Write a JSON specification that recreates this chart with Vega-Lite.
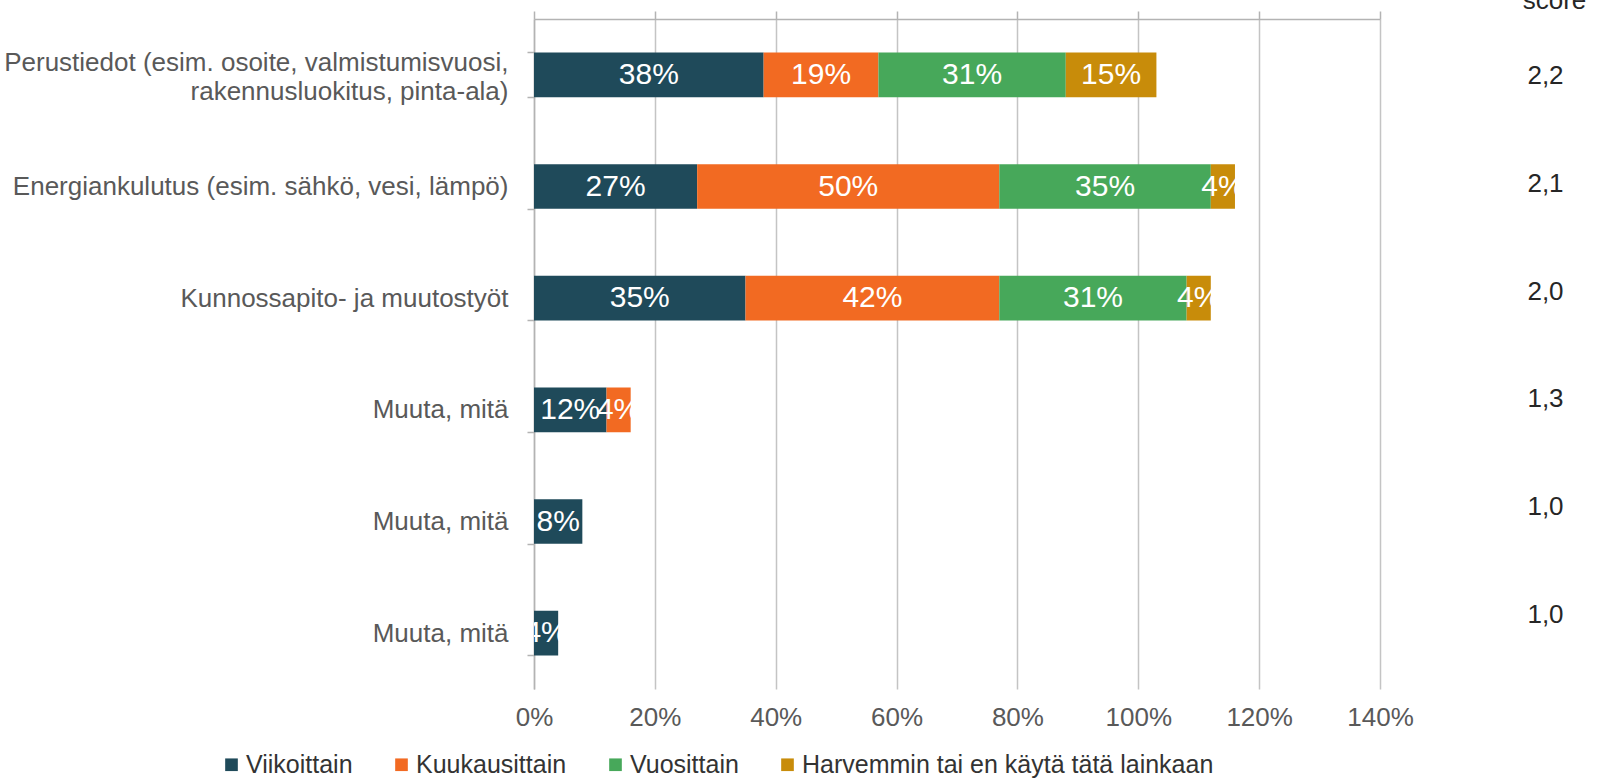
{
  "$schema": "https://vega.github.io/schema/vega-lite/v6.json",
  "width": 846,
  "height": 670,
  "autosize": {"type": "none"},
  "padding": {"left": 534, "top": 19, "right": 234, "bottom": 89},
  "background": "white",
  "config": {"view": {"stroke": null}, "font": "Liberation Sans"},
  "datasets": {
    "bars": [
      {"row": "r1", "series": "Viikoittain", "value": 0.38},
      {"row": "r1", "series": "Kuukausittain", "value": 0.19},
      {"row": "r1", "series": "Vuosittain", "value": 0.31},
      {"row": "r1", "series": "Harvemmin tai en käytä tätä lainkaan", "value": 0.15},
      {"row": "r2", "series": "Viikoittain", "value": 0.27},
      {"row": "r2", "series": "Kuukausittain", "value": 0.50},
      {"row": "r2", "series": "Vuosittain", "value": 0.35},
      {"row": "r2", "series": "Harvemmin tai en käytä tätä lainkaan", "value": 0.04},
      {"row": "r3", "series": "Viikoittain", "value": 0.35},
      {"row": "r3", "series": "Kuukausittain", "value": 0.42},
      {"row": "r3", "series": "Vuosittain", "value": 0.31},
      {"row": "r3", "series": "Harvemmin tai en käytä tätä lainkaan", "value": 0.04},
      {"row": "r4", "series": "Viikoittain", "value": 0.12},
      {"row": "r4", "series": "Kuukausittain", "value": 0.04},
      {"row": "r5", "series": "Viikoittain", "value": 0.08},
      {"row": "r6", "series": "Viikoittain", "value": 0.04}
    ],
    "scores": [
      {"row": "r1", "score": "2,2"},
      {"row": "r2", "score": "2,1"},
      {"row": "r3", "score": "2,0"},
      {"row": "r4", "score": "1,3"},
      {"row": "r5", "score": "1,0"},
      {"row": "r6", "score": "1,0"}
    ]
  },
  "layer": [
    {
      "data": {"name": "bars"},
      "transform": [
        {"calculate": "indexof(['Viikoittain','Kuukausittain','Vuosittain','Harvemmin tai en käytä tätä lainkaan'], datum.series)", "as": "order"},
        {"stack": "value", "groupby": ["row"], "sort": [{"field": "order"}], "as": ["v0", "v1"]}
      ],
      "mark": {"type": "bar"},
      "encoding": {
        "y": {
          "field": "row", "type": "nominal", "sort": ["r1", "r2", "r3", "r4", "r5", "r6"],
          "scale": {"paddingInner": 0.6, "paddingOuter": 0.3},
          "axis": {
            "orient": "left", "title": null, "tickBand": "extent",
            "domain": true, "domainColor": "#b3b3b3", "domainWidth": 1.5,
            "ticks": true, "tickSize": 7, "tickColor": "#b3b3b3", "tickWidth": 1.5,
            "grid": false,
            "labelFontSize": 26, "labelColor": "#595959", "labelPadding": 19, "labelLimit": 700,
            "labelLineHeight": 29,
            "labelOffset": {"condition": {"test": "datum.value == 'r1'", "value": -12}, "value": 0},
            "labelExpr": "datum.value == 'r1' ? ['Perustiedot (esim. osoite, valmistumisvuosi,', 'rakennusluokitus, pinta-ala)'] : datum.value == 'r2' ? 'Energiankulutus (esim. sähkö, vesi, lämpö)' : datum.value == 'r3' ? 'Kunnossapito- ja muutostyöt' : (datum.value == 'r4' || datum.value == 'r5' || datum.value == 'r6') ? 'Muuta, mitä' : ''"
          }
        },
        "x": {
          "field": "v0", "type": "quantitative",
          "scale": {"domain": [0, 1.4], "nice": false},
          "axis": {
            "orient": "bottom", "title": null,
            "values": [0, 0.2, 0.4, 0.6, 0.8, 1.0, 1.2, 1.4], "format": ".0%",
            "domain": false, "ticks": false, "labelFlush": false,
            "grid": true, "gridColor": "#c4c4c4", "gridWidth": 1.5,
            "labelFontSize": 26, "labelColor": "#595959", "labelPadding": 15
          }
        },
        "x2": {"field": "v1"},
        "color": {
          "field": "series", "type": "nominal",
          "scale": {
            "domain": ["Viikoittain", "Kuukausittain", "Vuosittain", "Harvemmin tai en käytä tätä lainkaan"],
            "range": ["#1f4a5a", "#f26a22", "#47a85a", "#c88c0a"]
          },
          "legend": {
            "orient": "none", "legendX": -315, "legendY": 733, "direction": "horizontal",
            "title": null, "symbolType": "square", "symbolSize": 160, "symbolStrokeWidth": 0,
            "labelFontSize": 25, "labelColor": "#333333", "labelOffset": 2,
            "columnPadding": 36, "labelLimit": 700
          }
        }
      }
    },
    {
      "data": {"name": "bars"},
      "transform": [
        {"calculate": "indexof(['Viikoittain','Kuukausittain','Vuosittain','Harvemmin tai en käytä tätä lainkaan'], datum.series)", "as": "order"},
        {"stack": "value", "groupby": ["row"], "sort": [{"field": "order"}], "as": ["v0", "v1"]},
        {"calculate": "(datum.v0 + datum.v1) / 2", "as": "mid"}
      ],
      "mark": {"type": "text", "color": "white", "fontSize": 30, "align": "center", "baseline": "middle", "clip": true},
      "encoding": {
        "y": {
          "field": "row", "type": "nominal", "sort": ["r1", "r2", "r3", "r4", "r5", "r6"],
          "scale": {"type": "band", "paddingInner": 0.6, "paddingOuter": 0.3},
          "axis": null
        },
        "x": {
          "field": "mid", "type": "quantitative",
          "axis": {
            "orient": "top", "title": null, "labels": false,
            "values": [0, 0.2, 0.4, 0.6, 0.8, 1.0, 1.2, 1.4],
            "domain": true, "domainColor": "#b3b3b3", "domainWidth": 1.5,
            "ticks": true, "tickSize": 8, "tickColor": "#b3b3b3", "tickWidth": 1.5,
            "grid": false
          }
        },
        "text": {"field": "value", "type": "quantitative", "format": ".0%"}
      }
    },
    {
      "data": {"name": "scores"},
      "mark": {"type": "text"},
      "encoding": {
        "y": {
          "field": "row", "type": "nominal", "sort": ["r1", "r2", "r3", "r4", "r5", "r6"],
          "scale": {"type": "point", "padding": 0.613, "align": 0.432},
          "axis": {
            "orient": "right", "domain": false, "ticks": false, "grid": false,
            "labelExpr": "{'r1': '2,2', 'r2': '2,1', 'r3': '2,0', 'r4': '1,3', 'r5': '1,0', 'r6': '1,0'}[datum.value]",
            "labelAlign": "center", "labelPadding": 165, "labelFontSize": 26, "labelColor": "#262626",
            "title": "score", "titleAngle": 0, "titleX": 174, "titleY": -11,
            "titleFontSize": 26, "titleFontWeight": "normal", "titleColor": "#262626",
            "titleAlign": "center", "titleBaseline": "alphabetic"
          }
        }
      }
    }
  ],
  "resolve": {"axis": {"x": "independent", "y": "independent"}, "scale": {"y": "independent"}}
}
